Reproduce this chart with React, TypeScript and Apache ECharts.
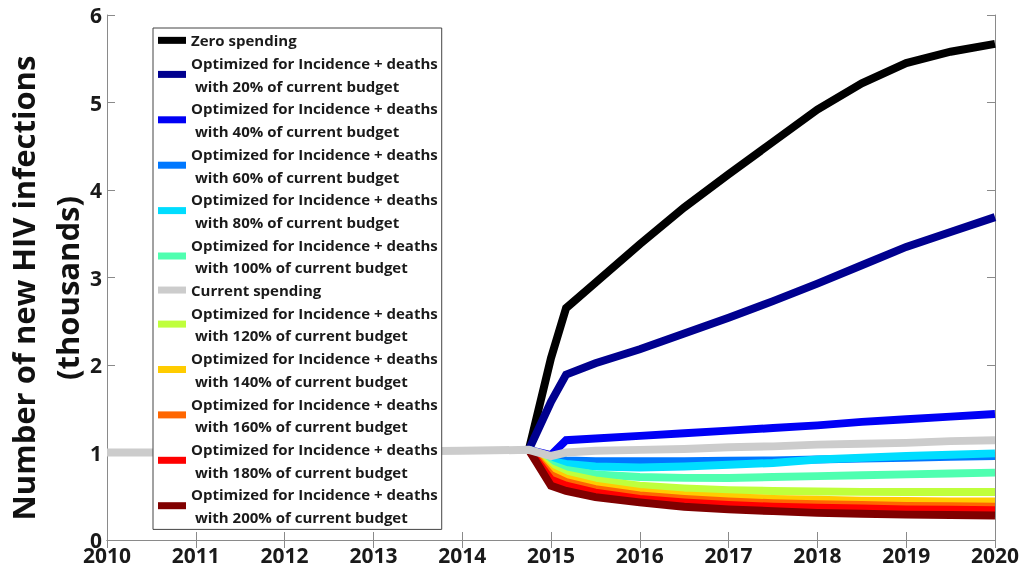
import React, { useEffect, useRef } from "react";
import * as echarts from "echarts";

// Time points (years)
const preYears = [2010, 2011, 2012, 2013, 2014];
const postYears = [2014.75, 2015, 2015.17, 2015.5, 2016, 2016.5, 2017, 2017.5, 2018, 2018.5, 2019, 2019.5, 2020];

// New HIV infections (thousands)
const zeroSpending = [1.03, 2.08, 2.65, 2.94, 3.38, 3.8, 4.18, 4.55, 4.92, 5.22, 5.45, 5.58, 5.67];
const opt20 = [1.03, 1.58, 1.89, 2.02, 2.18, 2.36, 2.54, 2.73, 2.93, 3.14, 3.35, 3.52, 3.69];
const opt40 = [1.03, 0.97, 1.14, 1.16, 1.19, 1.22, 1.25, 1.28, 1.31, 1.35, 1.38, 1.41, 1.44];
const opt60 = [1.03, 0.94, 0.91, 0.9, 0.9, 0.9, 0.905, 0.91, 0.92, 0.93, 0.94, 0.95, 0.96];
const opt80 = [1.03, 0.9, 0.87, 0.84, 0.83, 0.84, 0.86, 0.88, 0.92, 0.94, 0.96, 0.975, 0.99];
const opt100 = [1.03, 0.86, 0.8, 0.75, 0.72, 0.71, 0.71, 0.72, 0.73, 0.74, 0.75, 0.76, 0.77];
const currentPre = [1.0, 1.0, 1.0, 1.01, 1.02];
const currentPost = [1.03, 0.96, 1.0, 1.02, 1.03, 1.04, 1.06, 1.07, 1.09, 1.1, 1.11, 1.13, 1.14];
const opt120 = [1.03, 0.82, 0.75, 0.68, 0.62, 0.59, 0.57, 0.56, 0.555, 0.55, 0.55, 0.55, 0.55];
const opt140 = [1.03, 0.78, 0.7, 0.62, 0.55, 0.51, 0.49, 0.47, 0.46, 0.45, 0.445, 0.44, 0.44];
const opt160 = [1.03, 0.74, 0.66, 0.58, 0.51, 0.47, 0.44, 0.42, 0.41, 0.4, 0.39, 0.385, 0.38];
const opt180 = [1.03, 0.69, 0.62, 0.54, 0.47, 0.43, 0.4, 0.38, 0.37, 0.36, 0.35, 0.345, 0.34];
const opt200 = [1.03, 0.62, 0.56, 0.49, 0.43, 0.38, 0.35, 0.33, 0.31, 0.3, 0.29, 0.285, 0.28];

const optName = (p: number) => `Optimized for Incidence + deaths\n with ${p}% of current budget`;

const seriesDefs = [
  { name: "Zero spending", color: "#000000", years: postYears, values: zeroSpending },
  { name: optName(20), color: "#00008f", years: postYears, values: opt20 },
  { name: optName(40), color: "#0000f5", years: postYears, values: opt40 },
  { name: optName(60), color: "#0078ff", years: postYears, values: opt60 },
  { name: optName(80), color: "#00ddff", years: postYears, values: opt80 },
  { name: optName(100), color: "#4fffb0", years: postYears, values: opt100 },
  { name: "Current spending", color: "#cccccc", years: [...preYears, ...postYears], values: [...currentPre, ...currentPost] },
  { name: optName(120), color: "#bfff3c", years: postYears, values: opt120 },
  { name: optName(140), color: "#ffcc00", years: postYears, values: opt140 },
  { name: optName(160), color: "#ff6600", years: postYears, values: opt160 },
  { name: optName(180), color: "#ff0000", years: postYears, values: opt180 },
  { name: optName(200), color: "#800000", years: postYears, values: opt200 },
];

const xTicks = { min: 2010, max: 2020, interval: 1 };
const yTicks = { min: 0, max: 6, interval: 1 };

export default function App() {
  const ref = useRef<HTMLDivElement>(null);
  useEffect(() => {
    if (!ref.current) return;
    const chart = echarts.init(ref.current, null, { renderer: "svg" });
    const axisColor = "#8a8a8a";
    const labelFont = { fontFamily: "Open Sans", fontWeight: 700, fontSize: 21, color: "#1a1a1a" };
    const legendOrder = seriesDefs.map((s) => s.name);
    // current spending drawn on top
    const drawOrder = [...seriesDefs.filter((s) => s.name !== "Current spending"), seriesDefs[6]];
    chart.setOption({
      animation: false,
      grid: { left: 107, right: 26, top: 15, bottom: 29 },
      xAxis: [
        {
          type: "value", ...xTicks, position: "bottom",
          axisLine: { show: true, lineStyle: { color: axisColor, width: 1 } },
          axisTick: { show: true, inside: true, length: 8, lineStyle: { color: axisColor } },
          axisLabel: { ...labelFont, margin: 4, formatter: (v: number) => String(v) },
          splitLine: { show: false },
        },
        {
          type: "value", ...xTicks, position: "top",
          axisLine: { show: true, lineStyle: { color: axisColor, width: 1 } },
          axisTick: { show: true, inside: true, length: 8, lineStyle: { color: axisColor } },
          axisLabel: { show: false },
          splitLine: { show: false },
        },
      ],
      yAxis: [
        {
          type: "value", ...yTicks, position: "left",
          axisLine: { show: true, lineStyle: { color: axisColor, width: 1 } },
          axisTick: { show: true, inside: true, length: 8, lineStyle: { color: axisColor } },
          axisLabel: { ...labelFont, margin: 5 },
          splitLine: { show: false },
        },
        {
          type: "value", ...yTicks, position: "right",
          axisLine: { show: true, lineStyle: { color: axisColor, width: 1 } },
          axisTick: { show: true, inside: true, length: 8, lineStyle: { color: axisColor } },
          axisLabel: { show: false },
          splitLine: { show: false },
        },
      ],
      legend: {
        orient: "vertical",
        left: 153,
        top: 28,
        padding: [1, 4, 1, 5],
        itemGap: 0,
        itemWidth: 28,
        itemHeight: 7,
        icon: "rect",
        backgroundColor: "#ffffff",
        borderColor: "#444444",
        borderWidth: 1,
        selectedMode: false,
        data: legendOrder,
        textStyle: { fontFamily: "Open Sans", fontWeight: 700, fontSize: 15, color: "#1a1a1a", lineHeight: 22.7 },
      },
      graphic: [
        {
          type: "text",
          x: 45,
          y: 288,
          rotation: Math.PI / 2,
          style: {
            text: "Number of new HIV infections\n(thousands)",
            fontFamily: "Open Sans",
            fontWeight: 700,
            fontSize: 31,
            lineHeight: 44,
            fill: "#111111",
            align: "center",
            verticalAlign: "middle",
          },
        },
      ],
      series: drawOrder.map((s) => ({
        name: s.name,
        type: "line",
        xAxisIndex: 0,
        yAxisIndex: 0,
        showSymbol: false,
        symbol: "none",
        silent: true,
        color: s.color,
        lineStyle: { color: s.color, width: 8, join: "miter" },
        data: s.years.map((y, i) => [y, s.values[i]]),
      })),
    });
    return () => chart.dispose();
  }, []);
  return <div ref={ref} style={{ position: "fixed", left: 0, top: 0, width: 1022, height: 569 }} />;
}
